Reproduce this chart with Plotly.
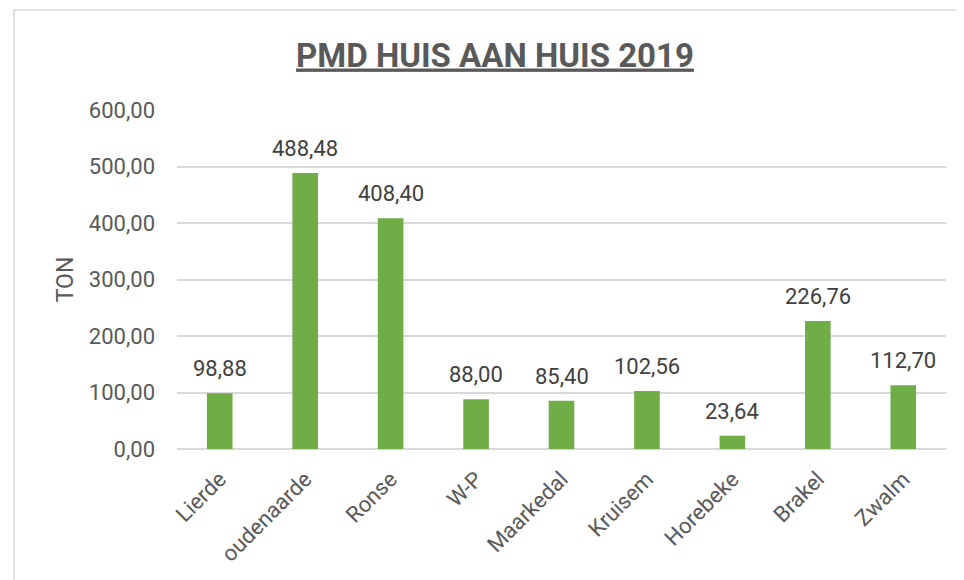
import plotly.graph_objects as go

categories = ["Lierde", "oudenaarde", "Ronse", "W-P", "Maarkedal", "Kruisem", "Horebeke", "Brakel", "Zwalm"]
values = [98.88, 488.48, 408.40, 88.00, 85.40, 102.56, 23.64, 226.76, 112.70]

FONT = "Roboto"
OFF = 8  # page body margin
W, H = 964 - OFF, 580 - OFF
L, R, T, B = 177 - OFF, 18, 110 - OFF, 131
PW, PH = W - L - R, H - T - B

fig = go.Figure()
fig.add_trace(go.Bar(x=categories, y=values, marker=dict(color="#70AD47", line=dict(width=0)),
                     width=0.30, hoverinfo="skip"))

for c, v in zip(categories, values):
    fig.add_annotation(x=c, y=v, text=f"{v:.2f}".replace(".", ","), showarrow=False,
                       yanchor="bottom", yshift=10, font=dict(family=FONT, size=22, color="#404040"))

fig.update_layout(
    width=W, height=H,
    margin=dict(l=L, r=R, t=T, b=B),
    paper_bgcolor="white", plot_bgcolor="white",
    separators=",.",
    showlegend=False,
    title=dict(text="<b><u>PMD HUIS AAN HUIS 2019</u></b>", x=(495 - OFF) / W, xanchor="center",
               y=1 - (55 - OFF) / H, yanchor="middle",
               font=dict(family=FONT, size=33, color="#595959")),
    xaxis=dict(showgrid=False, showline=False, tickangle=-45, ticks="",
               ticklabelstandoff=12,
               tickfont=dict(family=FONT, size=22, color="#595959")),
    yaxis=dict(range=[0, 600], dtick=100, tickformat=".2f", showgrid=True, gridcolor="#D9D9D9", gridwidth=1.5,
               zeroline=True, zerolinecolor="#D9D9D9", zerolinewidth=1.5, showline=False, ticks="",
               ticklabelstandoff=21,
               tickfont=dict(family=FONT, size=22, color="#595959"),
               title=dict(text="TON", standoff=8, font=dict(family=FONT, size=23, color="#595959"))),
    shapes=[dict(type="rect", xref="paper", yref="paper",
                 x0=(14 - 177) / PW, x1=(957 - 177) / PW, y0=(449 - 600) / PH, y1=(449 - 10) / PH,
                 line=dict(color="#D9D9D9", width=1.5), fillcolor="rgba(0,0,0,0)", layer="below")],
)

fig.write_html("out.html")
